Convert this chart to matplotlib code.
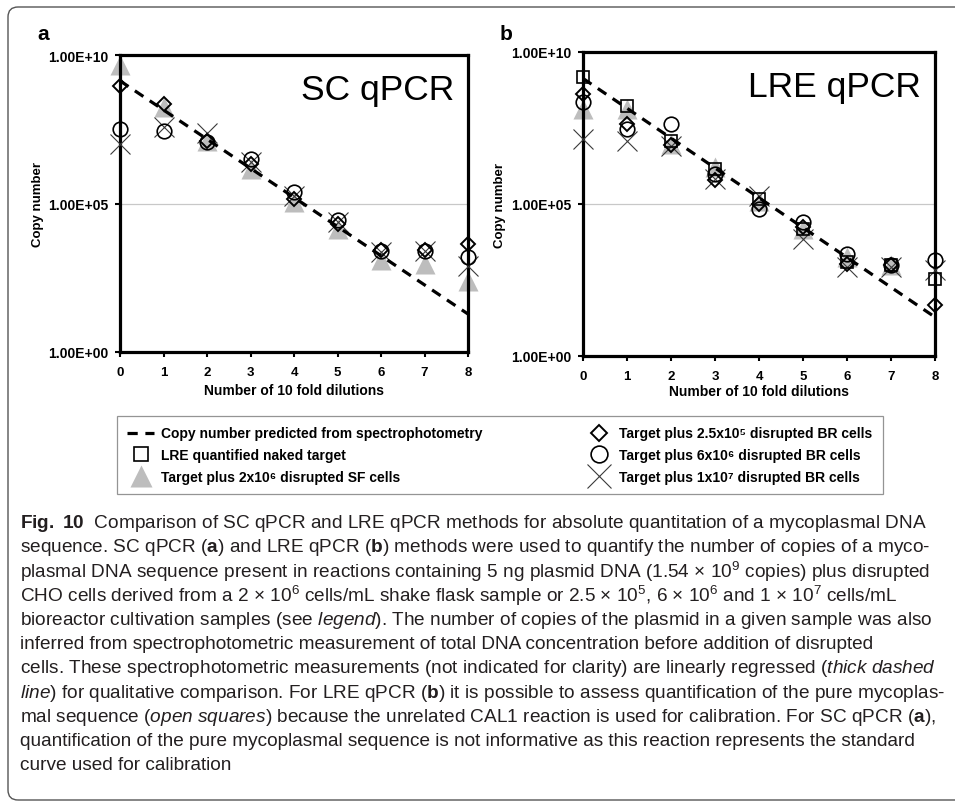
import numpy as np
import matplotlib
matplotlib.use("Agg")
import matplotlib.pyplot as plt
from matplotlib import font_manager
from matplotlib.patches import FancyBboxPatch
from matplotlib.ticker import NullLocator

# --- data (copy numbers) ---
dilutions = [0, 1, 2, 3, 4, 5, 6, 7, 8]
pred_x = [0, 8]
pred_copies = [1.35e9, 1.9e1]

# panel a: SC qPCR
sc_triangle = [4.5e9, 1.8e8, 1.3e7, 1.4e6, 1.15e5, 1.4e4, 1.3e3, 9.1e2, 2.5e2]
sc_diamond = [8.7e8, 2.2e8, 1.3e7, 2.1e6, 1.4e5, 2.0e4, 2.7e3, 2.7e3, 4.2e3]
sc_circle = [3.3e7, 2.8e7, 1.2e7, 3.2e6, 2.5e5, 2.8e4, 2.6e3, 2.6e3, 1.6e3]
sc_cross = [1.0e7, 3.8e7, 2.4e7, 2.5e6, 1.8e5, 2.4e4, 2.4e3, 2.45e3, 8.1e2]

# panel b: LRE qPCR
lre_square = [1.45e9, 1.7e8, 1.2e7, 1.4e6, 1.45e5, 1.5e4, 1.2e3, 1.0e3, 3.4e2]
lre_triangle = [1.35e8, 1.35e8, 9.5e6, 1.6e6, 1.25e5, 1.5e4, 1.8e3, 1.0e3, np.nan]
lre_diamond = [4.2e8, 4.3e7, 8.7e6, 6.0e5, 1.0e5, 1.8e4, 1.07e3, 1.0e3, 4.8e1]
lre_circle = [2.2e8, 2.9e7, 4.3e7, 9.8e5, 7.0e4, 2.6e4, 2.3e3, 1.0e3, 1.45e3]
lre_cross = [1.4e7, 1.2e7, 8.3e6, 6.6e5, 1.85e5, 7.1e3, 8.3e2, 8.3e2, 6.5e2]

ytick_vals = [1, 1e5, 1e10]
ytick_labels = ["1.00E+00", "1.00E+05", "1.00E+10"]

legend_labels = [
    "Copy number predicted from spectrophotometry",
    "LRE quantified naked target",
    "Target plus 2x10\u2076 disrupted SF cells",
    "Target plus 2.5x10\u2075 disrupted BR cells",
    "Target plus 6x10\u2076 disrupted BR cells",
    "Target plus 1x10\u2077 disrupted BR cells",
]

caption_lines = [
    r"$\mathbf{Fig.\ 10}$  Comparison of SC qPCR and LRE qPCR methods for absolute quantitation of a mycoplasmal DNA",
    r"sequence. SC qPCR ($\mathbf{a}$) and LRE qPCR ($\mathbf{b}$) methods were used to quantify the number of copies of a myco-",
    r"plasmal DNA sequence present in reactions containing 5 ng plasmid DNA (1.54 × $10^{9}$ copies) plus disrupted",
    r"CHO cells derived from a 2 × $10^{6}$ cells/mL shake flask sample or 2.5 × $10^{5}$, 6 × $10^{6}$ and 1 × $10^{7}$ cells/mL",
    r"bioreactor cultivation samples (see $\mathit{legend}$). The number of copies of the plasmid in a given sample was also",
    r"inferred from spectrophotometric measurement of total DNA concentration before addition of disrupted",
    r"cells. These spectrophotometric measurements (not indicated for clarity) are linearly regressed ($\mathit{thick\ dashed}$",
    r"$\mathit{line}$) for qualitative comparison. For LRE qPCR ($\mathbf{b}$) it is possible to assess quantification of the pure mycoplas-",
    r"mal sequence ($\mathit{open\ squares}$) because the unrelated CAL1 reaction is used for calibration. For SC qPCR ($\mathbf{a}$),",
    r"quantification of the pure mycoplasmal sequence is not informative as this reaction represents the standard",
    r"curve used for calibration",
]

# --- fonts ---
names = {f.name for f in font_manager.fontManager.ttflist}
CAP_FONT = "Liberation Sans Narrow" if "Liberation Sans Narrow" in names else "Liberation Sans"
plt.rcParams["font.family"] = ["Liberation Sans", "DejaVu Sans"]
plt.rcParams["mathtext.fontset"] = "custom"
plt.rcParams["mathtext.default"] = "regular"
plt.rcParams["mathtext.rm"] = CAP_FONT
plt.rcParams["mathtext.it"] = CAP_FONT + ":italic"
plt.rcParams["mathtext.bf"] = CAP_FONT + ":bold"

W, H = 955, 803
fig = plt.figure(figsize=(W / 100, H / 100), dpi=100)


def px_axes(x0, y0, x1, y1):
    """axes from pixel box (top-left origin)"""
    return fig.add_axes([x0 / W, 1 - y1 / H, (x1 - x0) / W, (y1 - y0) / H])


ax_a = px_axes(120, 56, 468, 353)
ax_b = px_axes(583, 53, 935, 357)

STY = {
    "pred": dict(color="black", lw=2.3, ls=(0, (3.2, 2.4)), zorder=4),
    "square": dict(marker="s", ms=9, mfc="none", mec="black", mew=1.2, zorder=5),
    "triangle": dict(marker="^", ms=14, mfc="#bdbdbd", mec="none", zorder=2),
    "diamond": dict(marker="D", ms=7.5, mfc="none", mec="black", mew=1.4, zorder=6),
    "circle": dict(marker="o", ms=10.5, mfc="none", mec="black", mew=1.2, zorder=5),
    "cross": dict(marker="x", ms=15, mec="#3a3a3a", mew=0.8, zorder=3),
}


def pts(ax, y, key):
    return ax.plot(dilutions, y, ls="none", clip_on=False, **STY[key])[0]


def style_axes(ax, title):
    ax.set_yscale("log")
    ax.set_xlim(0, 8)
    ax.set_ylim(1, 1e10)
    ax.set_yticks(ytick_vals)
    ax.set_yticklabels(ytick_labels)
    ax.yaxis.set_minor_locator(NullLocator())
    ax.set_xticks(dilutions)
    ax.tick_params(axis="both", direction="out", length=3.5, width=1.5)
    ax.tick_params(axis="y", pad=5, labelsize=10)
    ax.tick_params(axis="x", pad=6.5, labelsize=9.5)
    for lab in ax.get_xticklabels() + ax.get_yticklabels():
        lab.set_fontweight("bold")
    ax.axhline(1e5, color="#c8c8c8", lw=0.9, zorder=0)
    for sp in ax.spines.values():
        sp.set_linewidth(2.3)
    ax.set_xlabel("Number of 10 fold dilutions", fontsize=10, fontweight="bold")
    ax.set_ylabel("Copy number", fontsize=9.5, fontweight="bold")
    ax.xaxis.label.set_va("center")
    ax.yaxis.label.set_va("center")
    ax.text(0.96, 0.885, title, transform=ax.transAxes, ha="right",
            va="center", fontsize=25.5)


# panel a
pts(ax_a, sc_triangle, "triangle")
pts(ax_a, sc_cross, "cross")
ax_a.plot(pred_x, pred_copies, **STY["pred"])
pts(ax_a, sc_circle, "circle")
pts(ax_a, sc_diamond, "diamond")
style_axes(ax_a, "SC qPCR")
ax_a.xaxis.set_label_coords(0.5, -0.128)
ax_a.yaxis.set_label_coords(-0.236, 0.5)

# panel b
h_tri = pts(ax_b, lre_triangle, "triangle")
h_x = pts(ax_b, lre_cross, "cross")
h_line = ax_b.plot(pred_x, pred_copies, **STY["pred"])[0]
h_sq = pts(ax_b, lre_square, "square")
h_o = pts(ax_b, lre_circle, "circle")
h_d = pts(ax_b, lre_diamond, "diamond")
style_axes(ax_b, "LRE qPCR")
ax_b.xaxis.set_label_coords(0.5, -0.115)
ax_b.yaxis.set_label_coords(-0.236, 0.5)

fig.text(37 / W, 1 - 35 / H, "a", ha="left", va="center", fontsize=15, fontweight="bold")
fig.text(500 / W, 1 - 35 / H, "b", ha="left", va="center", fontsize=15, fontweight="bold")

# legend
leg = fig.legend([h_line, h_sq, h_tri, h_d, h_o, h_x], legend_labels, ncol=2,
                 loc="center", mode="expand",
                 bbox_to_anchor=(110 / W, 1 - 497 / H, 780 / W, 82 / H),
                 frameon=True, fancybox=False, edgecolor="#7a7a7a",
                 prop=dict(weight="bold", size=10), handlelength=1.9,
                 labelspacing=0.55, borderpad=0.75, handletextpad=0.5,
                 markerscale=1.15, numpoints=1)
leg.get_frame().set_linewidth(0.9)

# outer rounded frame (pixel units via inches transform)
frame = FancyBboxPatch((0.08, 0.02), 9.8, 7.93,
                       boxstyle="round,pad=0,rounding_size=0.1",
                       transform=fig.dpi_scale_trans, fill=False,
                       edgecolor="#555555", lw=1.0)
fig.add_artist(frame)

# caption
cap_texts = []
for i, line in enumerate(caption_lines):
    t = fig.text(20 / W, 1 - (523 + 24.3 * i) / H, line, ha="left", va="center",
                 fontsize=13, family=CAP_FONT, color="#231f20")
    cap_texts.append(t)

# fit caption so the widest line spans ~925 px like the reference
r = fig.canvas.get_renderer()
wmax = max(t.get_window_extent(r).width for t in cap_texts)
scale = 925 / wmax
for t in cap_texts:
    t.set_fontsize(13 * scale)

fig.savefig("out.png", dpi=100)
